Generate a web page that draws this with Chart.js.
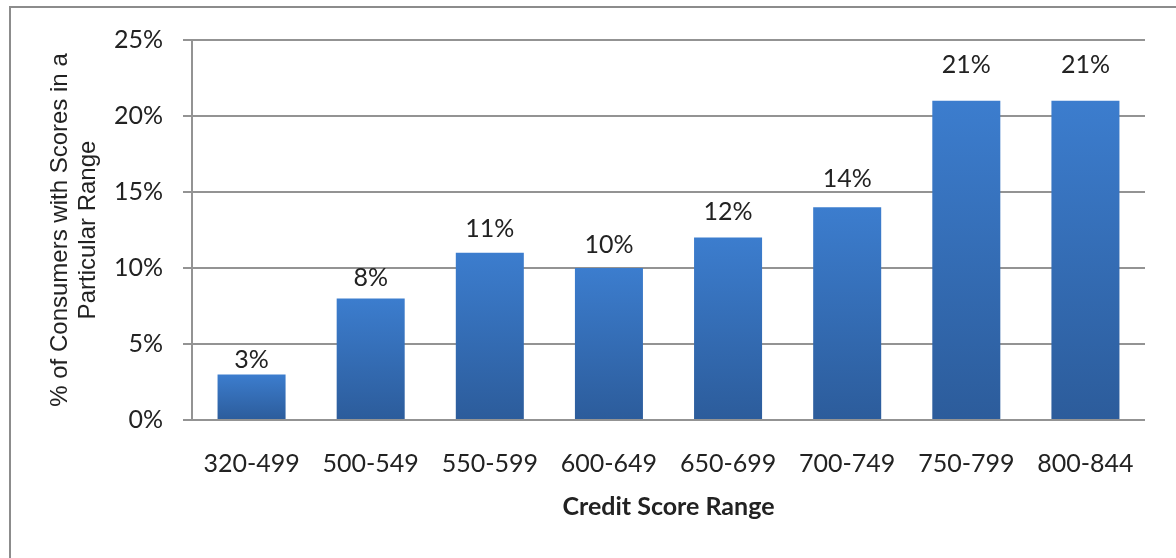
<!DOCTYPE html>
<html>
<head>
<meta charset="utf-8">
<script src="https://cdn.jsdelivr.net/npm/chart.js@4.4.1/dist/chart.umd.min.js"></script>
<style>
  html, body { margin: 0; padding: 0; background: #fff; overflow: hidden; }
  #frame {
    position: absolute; left: 9px; top: 6px; width: 1200px; height: 600px;
    border: 2px solid #8c8c8c; box-sizing: border-box;
  }
  #wrap { position: absolute; left: 0; top: 0; width: 1176px; height: 558px; }
</style>
</head>
<body>
<div id="frame"></div>
<div id="wrap"><canvas id="chart"></canvas></div>
<script>
// Credit score distribution
const categories = ['320-499', '500-549', '550-599', '600-649', '650-699', '700-749', '750-799', '800-844'];
const shares = [3, 8, 11, 10, 12, 14, 21, 21];
const yTitleLines = ['% of Consumers with Scores in a', 'Particular Range'];
const xTitle = 'Credit Score Range';

const TEXT = '#222';
const GRID = '#939393';
const LABEL_FONT = { family: 'Lato', size: 25 };

// per-bar vertical gradient, lighter at top
function barGradient(ctx) {
  const chart = ctx.chart;
  if (!chart.chartArea || ctx.raw == null) return '#3572bd';
  const y = chart.scales.y;
  const top = y.getPixelForValue(ctx.raw);
  const base = y.getPixelForValue(0);
  const g = chart.ctx.createLinearGradient(0, top, 0, base);
  g.addColorStop(0, '#3c7dce');
  g.addColorStop(1, '#2c5c9b');
  return g;
}

// labels sit higher above taller bars in the original
const labelLift = (v) => 3 + 1.2 * v;

const valueLabels = {
  id: 'valueLabels',
  afterDatasetsDraw(chart) {
    const ctx = chart.ctx;
    const meta = chart.getDatasetMeta(0);
    ctx.save();
    ctx.fillStyle = TEXT;
    ctx.font = `${LABEL_FONT.size}px ${LABEL_FONT.family}`;
    ctx.textAlign = 'center';
    ctx.textBaseline = 'alphabetic';
    meta.data.forEach((bar, i) => {
      ctx.fillText(shares[i] + '%', bar.x, bar.y - labelLift(shares[i]));
    });
    ctx.restore();
  }
};

// rotated two-line axis title, drawn in Arial like the original
const yTitle = {
  id: 'yTitle',
  afterDraw(chart) {
    const ctx = chart.ctx;
    ctx.save();
    ctx.fillStyle = TEXT;
    ctx.font = '24px "Liberation Sans", Arial, sans-serif';
    ctx.textAlign = 'center';
    ctx.textBaseline = 'alphabetic';
    const cy = 230;
    [67, 95].forEach((x, i) => {
      ctx.save();
      ctx.translate(x, cy);
      ctx.rotate(-Math.PI / 2);
      ctx.fillText(yTitleLines[i], 0, 0);
      ctx.restore();
    });
    ctx.restore();
  }
};

new Chart(document.getElementById('chart'), {
  type: 'bar',
  data: {
    labels: categories,
    datasets: [{
      data: shares,
      backgroundColor: barGradient,
      borderWidth: 0,
      categoryPercentage: 1,
      barPercentage: 0.571,
    }],
  },
  options: {
    responsive: true,
    maintainAspectRatio: false,
    animation: false,
    layout: { padding: { top: 40, right: 31, left: 0, bottom: 0 } },
    plugins: { legend: { display: false }, tooltip: { enabled: false } },
    scales: {
      x: {
        grid: { display: false, drawTicks: false },
        border: { display: false },
        ticks: { color: TEXT, font: LABEL_FONT, padding: 29, maxRotation: 0 },
        title: {
          display: true,
          text: xTitle,
          color: TEXT,
          font: { family: 'Lato', size: 25, weight: 'bold' },
          padding: { top: 0, bottom: 36 },
        },
        afterFit: (scale) => { scale.height = 138; },
      },
      y: {
        min: 0,
        max: 25,
        ticks: {
          stepSize: 5,
          color: TEXT,
          font: LABEL_FONT,
          padding: 20,
          callback: (v) => v + '%',
        },
        grid: { color: GRID, lineWidth: 2, tickLength: 9 },
        border: { display: true, color: GRID, width: 2 },
        afterFit: (scale) => { scale.width = 192; },
      },
    },
  },
  plugins: [valueLabels, yTitle],
});
</script>
</body>
</html>
